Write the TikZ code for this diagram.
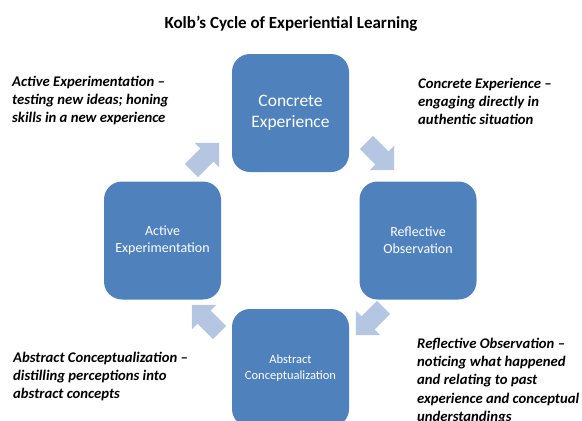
\documentclass[tikz,border=0pt]{standalone}
\usepackage{fontspec}
\setmainfont{Carlito}
\usepackage{tikz}
\usetikzlibrary{shapes.arrows}
\definecolor{azulcaja}{RGB}{79,129,189}
\definecolor{azulflecha}{RGB}{180,198,226}
\def\W{117}
\def\H{118}

\begin{document}
\begin{tikzpicture}[
	x = 1pt, y = -1pt,
	caja/.style = {
		rectangle, rounded corners = 18pt, fill = azulcaja,
		minimum width = \W pt, minimum height = \H pt,
		text = white, align = center, inner sep = 0pt
	},
	flecha/.style = {
		single arrow, fill = azulflecha,
		inner xsep = 0pt, inner ysep = 9pt,
		minimum height = 39pt,
		single arrow head extend = 8pt
	},
	nota/.style = {
		anchor = base west, align = left, inner sep = 0pt,
		font = \bfseries\itshape\fontsize{14.7}{18.4}\selectfont
	}
]

	% márgenes del dibujo
	\useasboundingbox (0,0) rectangle (582,421);
	\clip (0,0) rectangle (582,421);

	% título
	\node[font = \bfseries\fontsize{17}{20}\selectfont, anchor = base]
		(titulo) at (291,28) {Kolb's Cycle of Experiential Learning};

	% cajas del ciclo
	\node[caja, font = \fontsize{17.5}{21}\selectfont]
		(CE) at (290.5,113) {Concrete\\Experience};
	\node[caja, font = \fontsize{14}{17}\selectfont]
		(RO) at (418,240.5) {Reflective\\Observation};
	\node[caja, font = \fontsize{12.5}{15.5}\selectfont]
		(AC) at (290.5,368) {Abstract\\Conceptualization};
	\node[caja, font = \fontsize{14}{17}\selectfont]
		(AE) at (162.5,240.5) {Active\\Experimentation};

	% flechas entre las cajas
	\node[flecha, rotate = -45] (CE-RO) at (377,153) {};
	\node[flecha, rotate = -135] (RO-AC) at (373,318) {};
	\node[flecha, rotate = 135] (AC-AE) at (209,322) {};
	\node[flecha, rotate = 45] (AE-CE) at (202,160) {};

	% anotaciones (base = última línea)
	\node[nota] (nAE) at (12,122.8)
		{Active Experimentation --\\testing new ideas; honing\\skills in a new experience};
	\node[nota] (nCE) at (418,124.8)
		{Concrete Experience --\\engaging directly in\\authentic situation};
	\node[nota] (nAC) at (13,398.8)
		{Abstract Conceptualization --\\distilling perceptions into\\abstract concepts};
	\node[nota] (nRO) at (417,421.6)
		{Reflective Observation --\\noticing what happened\\and relating to past\\experience and conceptual\\understandings};

\end{tikzpicture}
\end{document}
